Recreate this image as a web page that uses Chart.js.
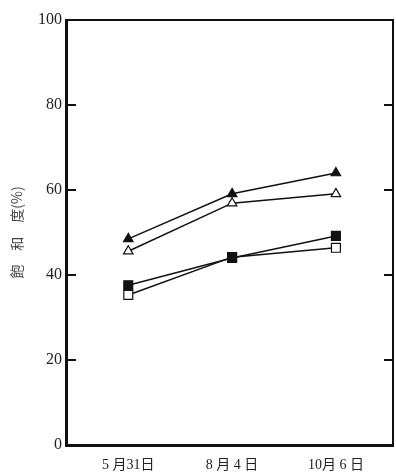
<!DOCTYPE html>
<html>
<head>
<meta charset="utf-8">
<script src="https://cdn.jsdelivr.net/npm/chart.js@4"></script>
<style>
  html, body { margin: 0; padding: 0; background: #fff; }
  #wrap { width: 396px; height: 472px; }
</style>
</head>
<body>
<div id="wrap"><canvas id="myChart"></canvas></div>
<script>
'use strict';

//---------------------- data -------------------
let dates = ['5 月31日', '8 月 4 日', '10月 6 日'];
let filledTriangle = [48.5, 59.1, 64.0];
let openTriangle = [45.6, 56.9, 59.1];
let filledSquare = [37.6, 44.0, 49.2];
let openSquare = [35.3, 44.2, 46.4];
let yTicks = [0, 20, 40, 60, 80, 100];

let font = "'Liberation Serif', 'Noto Sans CJK SC', serif";

function toPoints(values) {
  return values.map((v, i) => ({ x: i, y: v }));
}

function makeSet(values, style, filled, radius) {
  return {
    data: toPoints(values),
    borderColor: '#111',
    borderWidth: 1.5,
    pointStyle: style,
    pointRadius: radius,
    pointBackgroundColor: filled ? '#111' : '#fff',
    pointBorderColor: '#111',
    pointBorderWidth: 1.2,
    tension: 0,
  };
}

// frame on top/right and the little inward ticks
let framePlugin = {
  id: 'frame',
  afterDraw(chart) {
    let ctx = chart.ctx;
    let a = chart.chartArea;
    let y = chart.scales.y;
    ctx.save();
    ctx.strokeStyle = '#111';
    ctx.lineWidth = 2;
    ctx.beginPath();
    ctx.moveTo(a.left, a.top);
    ctx.lineTo(a.right, a.top);
    ctx.lineTo(a.right, a.bottom);
    ctx.stroke();
    yTicks.forEach(t => {
      if (t === 0 || t === 100) return;
      let py = y.getPixelForValue(t);
      ctx.beginPath();
      ctx.moveTo(a.left, py);
      ctx.lineTo(a.left + 10, py);
      ctx.moveTo(a.right, py);
      ctx.lineTo(a.right - 9, py);
      ctx.stroke();
    });
    ctx.restore();
  }
};

let ctx = document.getElementById('myChart').getContext('2d');
let myChart = new Chart(ctx, {
  type: 'line',
  data: {
    datasets: [
      makeSet(filledTriangle, 'triangle', true, 5.5),
      makeSet(openTriangle, 'triangle', false, 5.5),
      makeSet(filledSquare, 'rect', true, 6.3),
      makeSet(openSquare, 'rect', false, 6.3),
    ],
  },
  options: {
    responsive: true,
    maintainAspectRatio: false,
    animation: false,
    layout: { autoPadding: false, padding: { top: 20, right: 3, left: 0, bottom: 0 } },
    plugins: { legend: { display: false }, tooltip: { enabled: false } },
    scales: {
      x: {
        type: 'linear',
        min: -0.6,
        max: 2.55,
        afterBuildTicks: s => { s.ticks = [0, 1, 2].map(v => ({ value: v })); },
        afterFit: s => { s.height = 27; s.paddingLeft = 0; s.paddingRight = 0; },
        ticks: {
          callback: v => dates[v],
          color: '#222',
          font: { family: font, size: 14 },
          padding: 12,
          maxRotation: 0,
          autoSkip: false,
        },
        grid: { display: false, drawTicks: false },
        border: { color: '#111', width: 3 },
      },
      y: {
        min: 0,
        max: 100,
        afterBuildTicks: s => { s.ticks = yTicks.map(v => ({ value: v })); },
        afterFit: s => { s.width = 66; },
        ticks: {
          color: '#222',
          font: { family: font, size: 16 },
          padding: 4,
        },
        grid: { display: false, drawTicks: false },
        border: { color: '#111', width: 3 },
        title: {
          display: true,
          text: '飽　和　度(%)',
          color: '#444',
          font: { family: "'Noto Sans CJK SC', serif", size: 14 },
          padding: { top: 8, bottom: 0 },
        },
      },
    },
  },
  plugins: [framePlugin],
});
</script>
</body>
</html>
